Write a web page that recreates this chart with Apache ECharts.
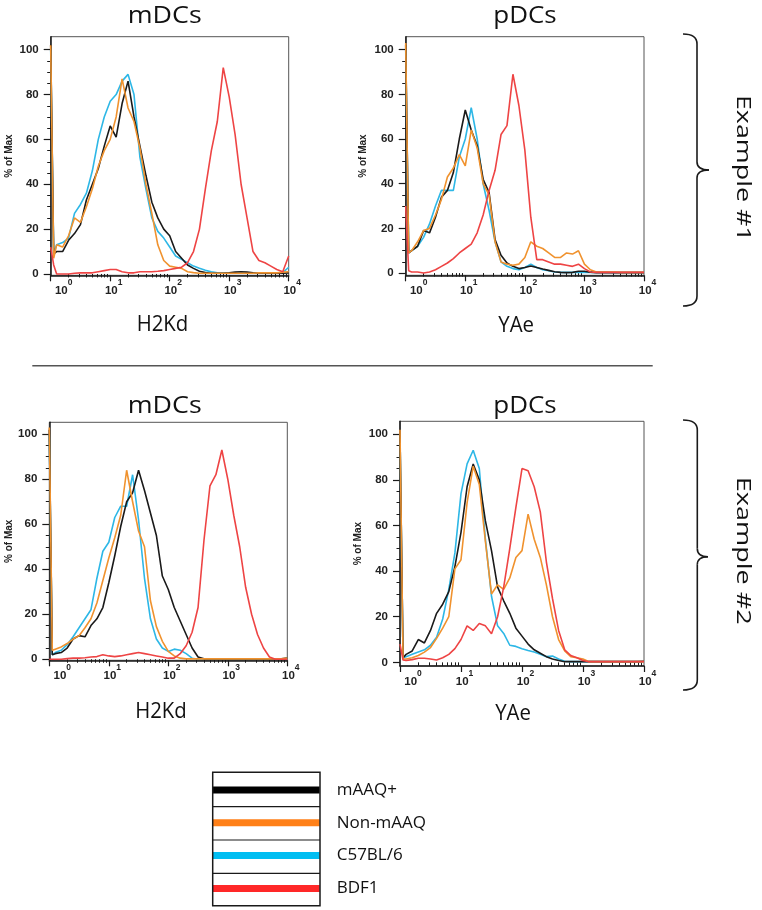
<!DOCTYPE html>
<html>
<head>
<meta charset="utf-8">
<script src="https://cdn.jsdelivr.net/npm/echarts@6/dist/echarts.min.js"></script>
<style>
  html, body { margin: 0; padding: 0; background: #ffffff; }
  #chart { width: 762px; height: 910px; }
</style>
</head>
<body>
<div id="chart"></div>
<script>
// ---------------- DATA ----------------
// x positions are log10 of fluorescence intensity (10^0 .. 10^4)
const xsLog = [0, 0.05, 0.1, 0.2, 0.3, 0.4, 0.5, 0.6, 0.7, 0.8, 0.9,
  1, 1.1, 1.2, 1.3, 1.4, 1.5, 1.6, 1.7, 1.8, 1.9,
  2, 2.1, 2.2, 2.3, 2.4, 2.5, 2.6, 2.7, 2.8, 2.9,
  3, 3.1, 3.2, 3.3, 3.4, 3.5, 3.6, 3.7, 3.8, 3.9, 4];

const strainNames = ['mAAQ+', 'Non-mAAQ', 'C57BL/6', 'BDF1'];
const panelTitles = ['mDCs', 'pDCs', 'mDCs', 'pDCs'];
const markerNames = ['H2Kd', 'YAe', 'H2Kd', 'YAe'];
const exampleNames = ['Example #1', 'Example #2'];
const xTickExps = [0, 1, 2, 3, 4];
const yTickValues = [0, 20, 40, 60, 80, 100];
const yMinorValues = [5, 10, 15, 25, 30, 35, 45, 50, 55, 65, 70, 75, 85, 90, 95];
const xMinorValues = [0.301, 0.477, 0.602, 0.699, 0.778, 0.845, 0.903, 0.954,
  1.301, 1.477, 1.602, 1.699, 1.778, 1.845, 1.903, 1.954,
  2.301, 2.477, 2.602, 2.699, 2.778, 2.845, 2.903, 2.954,
  3.301, 3.477, 3.602, 3.699, 3.778, 3.845, 3.903, 3.954];

// Example #1, mDCs (H2Kd)
const mdc1Black  = [102,9,10,10,15,18,22,33,40,47,57, 66,61,76,86,70,57,44,32,25,20, 17,10,7,4,2.5,1.2,0.6,0.3,0.3,0.3, 0.5,0.8,1,0.8,0.5,0.3,0.3,0.3,0.3,0.3, 0.5];
const mdc1Orange = [102,7,13,12,17,25,23,30,38,48,55, 60,70,87,74,68,56,40,27,13,6, 3.5,3,2.5,1,0.6,0.3,0.3,0.3,0.3,0.3, 0.3,0.3,0.3,0.3,0.3,0.5,0.5,0.5,0.5,0.8, 1];
const mdc1Cyan   = [100,9,13,14,16,27,31,36,46,60,70, 77,80,86,89,80,52,38,25,19,16, 12,8,6.5,5,3.5,2.5,1.6,1,0.5,0.4, 0.4,0.4,0.4,0.4,0.4,0.4,0.4,0.4,0.4,0.6, 3];
const mdc1Red    = [12,4,0,0,0,0.3,0.5,0.5,0.5,1,1.5, 2,2,1,0.5,0.5,1,1,1,1.2,1.5, 2,2.5,3,5,10,20,38,55,68,92, 79,62,40,25,10,6,5,3.5,2,1, 8];

// Example #1, pDCs (YAe)
const pdc1Black  = [102,9,10,12,19,18,25,34,37,45,60, 73,64,57,42,36,15,8,4.5,3,2, 2.5,3.2,2.5,1.8,1.2,0.6,0.3,0.2,0.3,0.8, 0.8,0.4,0.2,0.2,0.2,0.2,0.2,0.2,0.2,0.2, 0.2];
const pdc1Orange = [103,9,10,14,19,20,26,33,43,47,53, 48,64,56,40,35,14,5,4,3.5,4, 7,14,12,11,9,7,7,9,8.5,10, 4,1.5,0.5,0.5,0.5,0.4,0.3,0.3,0.3,0.3, 0.3];
const pdc1Cyan   = [100,9,10,12,16,22,30,37,37,37,52, 60,74,60,40,28,14,5,3,2,1.5, 2.5,4,2.5,1.5,1,0.5,0.3,0.3,0.3,0.3, 0.3,0.3,0.3,0.3,0.3,0.2,0.2,0.2,0.2,0.2, 0.2];
const pdc1Red    = [30,1,0.5,0.5,0,0.5,1.5,3,4.5,6.5,9, 11,13,18,26,37,46,62,66,89,75, 55,25,6,6,5,4,4,3.5,3,4, 2,0.5,0.3,0.3,0.3,0.3,0.3,0.3,0.3,0.3, 0.3];

// Example #2, mDCs (H2Kd)
const mdc2Black  = [102,2,2.5,3,5,9,10.5,10,15,18,23, 34,46,59,70,74,84,75,65,55,37, 31,23,17,11,5,1,0.2,0.2,0.2,0.2, 0.2,0.2,0.2,0.2,0.2,0.2,0.2,0.2,0.2,0.2, 0.5];
const mdc2Orange = [103,4,4.5,5.5,7,9,10.5,14,18,25,35, 45,54,64,84,70,57,50,26,14.5,8, 3.5,1.5,0.5,0.2,0.2,0.2,0.2,0.2,0.2,0.2, 0.2,0.2,0.2,0.2,0.2,0.2,0.2,0.2,0.2,0.2, 0.5];
const mdc2Cyan   = [100,2,3,4,6.5,10,14,18,22,36,48, 52,63,68,68,82,62,36,18,9,5, 3.5,4.5,4,2.5,0.5,0,0,0,0,0, 0,0,0,0,0,0,0,0,0,0, 0.5];
const mdc2Red    = [0,0,0,0,0.3,0.5,0.5,0.7,1,1.2,2, 1.5,1.2,1.5,2,2.5,3,2.5,2,1.5,1, 0.5,0.5,2.5,6,12,23,53,77,82,93, 80,64,50,32,20,11,5,1,0,0, 0];

// Example #2, pDCs (YAe)
const pdc2Black  = [100,2,3.5,5,10,8.5,14,21.5,25.5,31,42, 57,77,87,80,62,49,33,27,21.5,15, 11.5,8,5.5,4,2.5,1.5,0.8,0.3,0.3,0.3, 0.3,0.3,0.3,0.3,0.3,0.3,0.3,0.3,0.3,0.3, 0.5];
const pdc2Orange = [102,1.5,1.5,2,3,4.5,6.5,10.5,15,20,41, 45,70,86,78,53,30,34,32,37,46, 49,65,54,46,34,20,10,5,2.5,2, 1.5,0.3,0.3,0.3,0.3,0.3,0.3,0.3,0.3,0.3, 0.3];
const pdc2Cyan   = [100,2,2.5,3.5,4.5,5.5,7.5,11,19,32,48, 74,87,93,85,54,29,16,12.7,7.5,7, 6,5.2,4.5,3.5,2.5,2.8,1.5,0.5,0.3,0.3, 0.3,0.3,0.3,0.3,0.3,0.3,0.3,0.3,0.3,0.3, 0.3];
const pdc2Red    = [8,1,0.8,1.2,1.8,1.8,1.5,1,2,3.5,6, 10,16,14,17,16,12.5,20,33,50,68, 85,84,77,66,44,28,14,5.5,3,2, 0.8,0.3,0.3,0.3,0.3,0.3,0.3,0.3,0.3,0.3, 0.3];

// per panel, in strainNames order
const panelData = [
  [mdc1Black, mdc1Orange, mdc1Cyan, mdc1Red],
  [pdc1Black, pdc1Orange, pdc1Cyan, pdc1Red],
  [mdc2Black, mdc2Orange, mdc2Cyan, mdc2Red],
  [pdc2Black, pdc2Orange, pdc2Cyan, pdc2Red]
];

// ---------------- STYLE / LAYOUT ----------------
const lineColors   = ['#1a1a1a', '#f0922e', '#2db7e6', '#ee4444'];
const legendColors = ['#000000', '#ff8018', '#00bef2', '#ff2828'];
const drawOrder = [2, 0, 1, 3]; // cyan, black, orange, red on top

const panels = [
  { left: 50.7,  top: 36.7,  width: 238,   height: 238.6, yMin: -0.6,  yMax: 105.8, nameGap: 36 },
  { left: 405.7, top: 36.7,  width: 238.3, height: 238.6, yMin: -1.0,  yMax: 105.8, nameGap: 37 },
  { left: 49.3,  top: 422.3, width: 238,   height: 238,   yMin: -0.45, yMax: 105.3, nameGap: 34 },
  { left: 400,   top: 421.3, width: 244,   height: 244.7, yMin: -1.6,  yMax: 105.7, nameGap: 37 }
];

const axisColor = '#1a1a1a';
const tickFont = 'Liberation Sans';

const grids = [], xAxes = [], yAxes = [], series = [];
panels.forEach((p, i) => {
  grids.push({
    left: p.left, top: p.top, width: p.width, height: p.height,
    show: true, borderColor: '#555', borderWidth: 1, backgroundColor: 'transparent'
  });
  xAxes.push({
    type: 'value', gridIndex: i, min: xTickExps[0], max: xTickExps[xTickExps.length - 1], interval: 1,
    axisLine: { show: true, onZero: false, lineStyle: { color: axisColor, width: 1.5 } },
    axisTick: { show: true, length: 6, lineStyle: { color: axisColor, width: 1.2 } },
    splitLine: { show: false },
    axisLabel: {
      margin: 3,
      formatter: v => (v === 0 ? '{p0| }' : '{p| }') + '{b|10}{s|' + v + '}',
      rich: {
        p0: { width: 26, fontSize: 11 },
        p: { width: 7, fontSize: 11 },
        b: { fontSize: 11.5, fontWeight: 'bold', fontFamily: tickFont, color: '#222' },
        s: { fontSize: 8.5, fontWeight: 'bold', fontFamily: tickFont, color: '#222', padding: [0, 0, 16, 0] }
      }
    }
  });
  xAxes.push({
    type: 'value', gridIndex: i, min: xTickExps[0], max: xTickExps[xTickExps.length - 1], position: 'bottom',
    axisLine: { show: false },
    axisTick: { show: true, length: 3.5, customValues: xMinorValues, lineStyle: { color: axisColor, width: 1 } },
    axisLabel: { show: false, customValues: xMinorValues },
    splitLine: { show: false }
  });
  yAxes.push({
    type: 'value', gridIndex: i, min: p.yMin, max: p.yMax,
    name: '% of Max', nameLocation: 'middle', nameRotate: 90, nameGap: p.nameGap,
    nameTextStyle: { fontSize: 10, fontWeight: 'bold', fontFamily: tickFont, color: '#222' },
    axisLine: { show: true, onZero: false, lineStyle: { color: axisColor, width: 1.5 } },
    axisTick: { show: true, length: 7, customValues: yTickValues, lineStyle: { color: axisColor, width: 1.2 } },
    axisLabel: { customValues: yTickValues, margin: 12, fontSize: 11.5, fontWeight: 'bold', fontFamily: tickFont, color: '#222' },
    splitLine: { show: false }
  });
  yAxes.push({
    type: 'value', gridIndex: i, min: p.yMin, max: p.yMax, position: 'left',
    axisLine: { show: false },
    axisTick: { show: true, length: 3.5, customValues: yMinorValues, lineStyle: { color: axisColor, width: 1 } },
    axisLabel: { show: false, customValues: yMinorValues },
    splitLine: { show: false }
  });
  drawOrder.forEach((k, zi) => {
    const vals = panelData[i][k];
    series.push({
      type: 'line', name: strainNames[k],
      xAxisIndex: 2 * i, yAxisIndex: 2 * i,
      data: xsLog.map((x, j) => [x, vals[j]]),
      showSymbol: false, symbol: 'none', smooth: false,
      lineStyle: { width: 1.6, color: lineColors[k] },
      itemStyle: { color: lineColors[k] },
      z: 2 + zi, animation: false
    });
  });
});

// ---------------- free texts (measured & stretched to reference widths) ----------------
const mctx = document.createElement('canvas').getContext('2d');
function measure(text, font) { mctx.font = font; return mctx.measureText(text).width; }
function stretchedText(text, cx, cy, capH, targetW, rotation) {
  const fs = capH / 0.714;
  const font = fs.toFixed(2) + 'px "Open Sans"';
  const w = measure(text, font);
  return {
    type: 'text', x: cx, y: cy, rotation: rotation || 0, scaleX: targetW / w, z: 50,
    style: {
      text: text, font: font, fill: '#111',
      textAlign: 'center', textVerticalAlign: 'middle', align: 'center', verticalAlign: 'middle'
    }
  };
}

const textLayout = [
  [panelTitles[0], 164.7, 16, 16.7, 74],
  [panelTitles[1], 525, 16, 16.7, 63.4],
  [panelTitles[2], 164.7, 406, 16.7, 74],
  [panelTitles[3], 525, 406, 16.7, 63.4],
  [markerNames[0], 162.5, 325, 15.7, 51.6],
  [markerNames[1], 516.2, 325.5, 15.6, 35.7],
  [markerNames[2], 161, 712, 15.7, 51.6],
  [markerNames[3], 513, 714, 15.6, 35.7],
  [exampleNames[0], 742.5, 168.3, 14.5, 146.7, -Math.PI / 2],
  [exampleNames[1], 743, 550.8, 14.5, 148, -Math.PI / 2]
];

const graphics = textLayout.map(t => stretchedText(t[0], t[1], t[2], t[3], t[4], t[5]));

graphics.push({ type: 'line', z: 50, shape: { x1: 32.3, y1: 365.7, x2: 652.7, y2: 365.7 },
  style: { stroke: '#555', lineWidth: 1.5 } });

// curly brackets built from lines and quadratic curves
function bracket(top, mid, bottom, tipX, barX, notchX) {
  const st = { stroke: '#1a1a1a', lineWidth: 1.6, fill: null };
  return [
    { type: 'bezierCurve', z: 50, shape: { x1: tipX, y1: top, cpx1: barX, cpy1: top, x2: barX, y2: top + 10 }, style: st },
    { type: 'line', z: 50, shape: { x1: barX, y1: top + 10, x2: barX, y2: mid - 8 }, style: st },
    { type: 'bezierCurve', z: 50, shape: { x1: barX, y1: mid - 8, cpx1: barX, cpy1: mid, x2: notchX, y2: mid }, style: st },
    { type: 'bezierCurve', z: 50, shape: { x1: notchX, y1: mid, cpx1: barX, cpy1: mid, x2: barX, y2: mid + 8 }, style: st },
    { type: 'line', z: 50, shape: { x1: barX, y1: mid + 8, x2: barX, y2: bottom - 10 }, style: st },
    { type: 'bezierCurve', z: 50, shape: { x1: barX, y1: bottom - 10, cpx1: barX, cpy1: bottom, x2: tipX, y2: bottom }, style: st }
  ];
}
bracket(34, 170, 306, 683, 697, 709).forEach(g => graphics.push(g));
bracket(420, 556.7, 690, 683, 697.3, 708).forEach(g => graphics.push(g));

// legend frame
const lgBox = { x: 212.7, y: 772.3, w: 107.3, h: 133.4 };
graphics.push({ type: 'rect', z: 60, shape: { x: lgBox.x, y: lgBox.y, width: lgBox.w, height: lgBox.h },
  style: { stroke: '#1a1a1a', lineWidth: 1.5, fill: null } });
[806.7, 840, 873.3].forEach(yy => graphics.push({ type: 'line', z: 60,
  shape: { x1: lgBox.x, y1: yy, x2: lgBox.x + lgBox.w, y2: yy }, style: { stroke: '#1a1a1a', lineWidth: 1.2 } }));

const option = {
  animation: false,
  backgroundColor: '#ffffff',
  grid: grids,
  xAxis: xAxes,
  yAxis: yAxes,
  legend: {
    orient: 'vertical', left: 212.7, top: 780, padding: 0,
    itemWidth: 119, itemHeight: 7, itemGap: 12.8, symbolKeepAspect: false,
    icon: 'path://M0,0L107,0L107,7L0,7Z M119,0L119.01,0L119.01,7L119,7Z',
    textStyle: { fontSize: 17, lineHeight: 20, fontFamily: 'Open Sans', color: '#111' },
    data: strainNames.map((n, k) => ({ name: n, itemStyle: { color: legendColors[k] } }))
  },
  graphic: graphics,
  series: series
};

const chart = echarts.init(document.getElementById('chart'), null, { renderer: 'canvas' });
chart.setOption(option);
</script>
</body>
</html>
